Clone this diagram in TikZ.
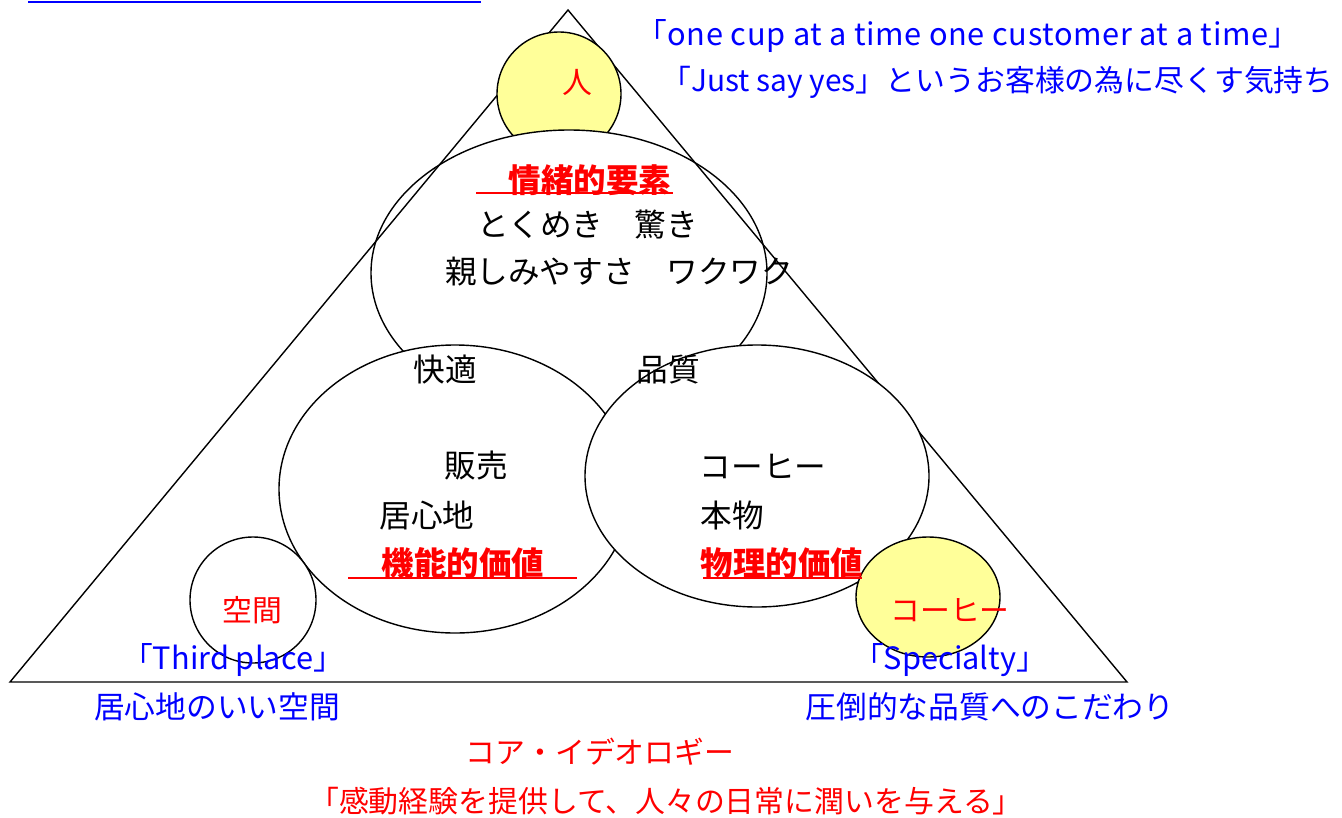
\documentclass[tikz,border=0pt]{standalone}
\usepackage{fontspec}
\setmainfont{Noto Sans CJK JP}
\usetikzlibrary{positioning}
\definecolor{paleyellow}{HTML}{FFFF99}
\tikzstyle{txt} = [font=\fontsize{18}{21}\selectfont,inner sep=0pt]

\begin{document}
\begin{tikzpicture}[x=0.02cm,y=-0.02cm]
\tikzset{bluetxt/.style={txt,blue,font=\fontsize{17.5}{21}\selectfont},
  redtxt/.style={txt,red,font=\fontsize{17}{20}\selectfont},
  title/.style={txt,red,font=\fontsize{18.5}{21}\selectfont\bfseries},
  uline/.style={red,line width=1.6pt},
  bubble/.style={draw=black,line width=0.8pt}}
\useasboundingbox (0,0) rectangle (1342,818);

\draw[blue,line width=1.7pt] (28,2) -- (481,2);

% triangle and the top circle
\coordinate (apex) at (568,10);
\coordinate (bl) at (10,682);
\coordinate (br) at (1127,682);
\draw[bubble] (apex) -- (bl) -- (br) -- cycle;
\draw[bubble,fill=paleyellow] (559,94) circle [radius=62];
\begin{scope}
\clip (559,94) circle [radius=64];
\fill[white] (569,273) ellipse [x radius=198, y radius=143];
\end{scope}
\draw[bubble] (569,273) ellipse [x radius=198, y radius=143];

% lower ellipses
\draw[bubble,fill=white] (455,489) ellipse [x radius=176, y radius=144];
\draw[bubble,fill=white] (757,476) ellipse [x radius=172, y radius=131];
\draw[bubble,fill=white] (253,600) circle [radius=63];
\draw[bubble,fill=paleyellow] (928,597) ellipse [x radius=72, y radius=60];

\node[redtxt] (hito) at (577,82) {人};
\node[bluetxt] (cup) at (968,36) {\addfontfeature{LetterSpace=2}「one cup at a time one customer at a time」};
\node[bluetxt,font=\fontsize{17}{20}\selectfont,anchor=east] (yes) at (1334,82) {「Just say yes」というお客様の為に尽くす気持ち};

\node[title] (jocho) at (590,180) {情緒的要素};
\draw[uline] (476,193) -- (673,193);
\node[txt] (tokimeki) at (588,225) {とくめき　驚き};
\node[txt] (shitashimi) at (619,272) {親しみやすさ　ワクワク};
\node[txt] (kaiteki) at (445,370) {快適};
\node[txt] (hinshitsu) at (668,370) {品質};

\node[txt] (hanbai) at (476,466) {販売};
\node[txt] (igokochi) at (427,515) {居心地};
\node[title] (kino) at (463,563) {機能的価値};
\draw[uline] (348,578) -- (577,578);

\node[txt] (coffee) at (763,466) {コーヒー};
\node[txt] (honmono) at (732,515) {本物};
\node[title] (butsuri) at (782,563) {物理的価値};
\draw[uline] (703,578) -- (862,578);

\node[redtxt] (kukan) at (252,610) {空間};
\node[redtxt] (coffeered) at (950,610) {コーヒー};
\node[bluetxt] (third) at (233,660) {「Third place」};
\node[bluetxt] (igokochiblue) at (217,707) {居心地のいい空間};
\node[bluetxt] (special) at (950,660) {「Specialty」};
\node[bluetxt] (kodawari) at (990,707) {圧倒的な品質へのこだわり};

\node[redtxt] (core) at (600,752) {コア・イデオロギー};
\node[redtxt] (kando) at (666,801) {「感動経験を提供して、人々の日常に潤いを与える」};
\end{tikzpicture}
\end{document}
